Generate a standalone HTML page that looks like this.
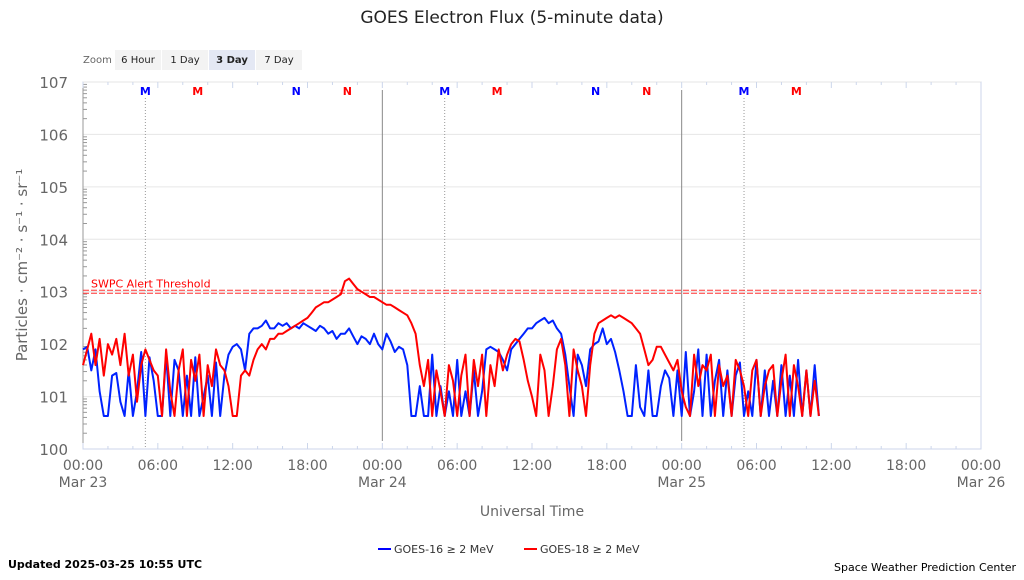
<!DOCTYPE html>
<html><head><meta charset="utf-8"><style>
body{margin:0;background:#fff;width:1024px;height:576px;overflow:hidden;font-family:"DejaVu Sans","Liberation Sans",sans-serif}
svg text{font-family:"DejaVu Sans","Liberation Sans",sans-serif}
</style></head><body>
<svg id="c" width="1024" height="576" xmlns="http://www.w3.org/2000/svg">
<text x="512" y="23" text-anchor="middle" font-size="17" fill="#222">GOES Electron Flux (5-minute data)</text>
<text x="83" y="63" font-size="10" fill="#666">Zoom</text>
<g><rect x="115" y="50" width="46" height="20" fill="#f3f3f3"/><text x="138" y="63" text-anchor="middle" font-size="10" fill="#222">6 Hour</text></g>
<g><rect x="162" y="50" width="46" height="20" fill="#f3f3f3"/><text x="185" y="63" text-anchor="middle" font-size="10" fill="#222">1 Day</text></g>
<g><rect x="209" y="50" width="46" height="20" fill="#e4e8f4"/><text x="232" y="63" text-anchor="middle" font-size="10" font-weight="bold" fill="#222">3 Day</text></g>
<g><rect x="256" y="50" width="46" height="20" fill="#f3f3f3"/><text x="279" y="63" text-anchor="middle" font-size="10" fill="#222">7 Day</text></g>
<g id="grid"></g><g id="marks"></g>
<text transform="translate(27,265) rotate(-90)" text-anchor="middle" font-size="15" fill="#666">Particles · cm⁻² · s⁻¹ · sr⁻¹</text>
<text x="532" y="516" text-anchor="middle" font-size="14" fill="#666">Universal Time</text>
<g><line x1="378" y1="549" x2="391" y2="549" stroke="#0000ff" stroke-width="2"/><text x="394" y="553" font-size="11" fill="#333">GOES-16 ≥ 2 MeV</text></g>
<g><line x1="524" y1="549" x2="537" y2="549" stroke="#ff0000" stroke-width="2"/><text x="540" y="553" font-size="11" fill="#333">GOES-18 ≥ 2 MeV</text></g>
<text x="8" y="568" font-size="11" font-weight="bold" fill="#000">Updated 2025-03-25 10:55 UTC</text>
<text x="1016" y="571" text-anchor="end" font-size="11" fill="#000">Space Weather Prediction Center</text>
</svg>
<script>
// log10 flux, sampled every 20 minutes from 2025-03-23 00:00
const goes16 = [1.9,1.95,1.5, 1.9,1.1,0.63, 0.63,1.4,1.45, 0.9,0.63,1.5, 0.63,1.1,1.85, 0.63,1.75,1.3, 0.63,0.63,1.8, 0.63,1.7,1.5, 0.63,1.4,0.63, 1.75,0.63,1.0, 1.4,0.63,1.65, 0.63,1.4,1.8, 1.95,2.0,1.9, 1.5,2.2,2.3, 2.3,2.35,2.45, 2.3,2.3,2.4, 2.35,2.4,2.3, 2.35,2.3,2.4, 2.35,2.3,2.25, 2.35,2.3,2.2, 2.25,2.1,2.2, 2.2,2.3,2.15, 2.0,2.15,2.1, 2.0,2.2,2.0, 1.9,2.2,2.05, 1.85,1.95,1.9, 1.6,0.63,0.63, 1.2,0.63,0.63, 1.8,0.63,1.2, 0.63,1.1,0.63, 1.7,0.63,1.1, 0.63,1.5,0.63, 1.1,1.9,1.95, 1.9,1.85,1.7, 1.5,1.9,2.0, 2.1,2.2,2.3, 2.3,2.4,2.45, 2.5,2.4,2.45, 2.3,2.2,1.8, 1.2,0.63,1.8, 1.6,1.2,1.9, 2.0,2.05,2.3, 2.0,2.1,1.85, 1.5,1.1,0.63, 0.63,1.6,0.8, 0.63,1.5,0.63, 0.63,1.2,1.5, 1.35,0.63,1.5, 0.63,1.85,0.63, 1.1,1.9,0.63, 1.8,0.63,1.3, 1.7,0.63,1.5, 0.63,1.4,1.65, 0.63,1.1,0.63, 1.7,0.63,1.5, 0.63,1.3,0.63, 1.6,0.63,1.4, 0.63,1.7,0.63, 1.5,0.63,1.6, 0.63];
const goes18 = [1.6,1.9,2.2, 1.6,2.1,1.4, 2.0,1.8,2.1, 1.6,2.2,1.4, 1.8,0.9,1.6, 1.9,1.7,1.5, 1.4,0.63,1.9, 1.1,0.63,1.5, 1.9,0.63,1.7, 1.3,1.8,0.63, 1.6,1.2,1.9, 1.6,1.5,1.2, 0.63,0.63,1.4, 1.5,1.4,1.7, 1.9,2.0,1.9, 2.1,2.1,2.2, 2.2,2.25,2.3, 2.35,2.4,2.45, 2.5,2.6,2.7, 2.75,2.8,2.8, 2.85,2.9,2.95, 3.2,3.25,3.15, 3.05,3.0,2.95, 2.9,2.9,2.85, 2.8,2.75,2.75, 2.7,2.65,2.6, 2.55,2.4,2.2, 1.6,1.2,1.7, 0.63,1.5,1.1, 0.63,1.6,1.3, 0.63,1.4,1.8, 0.63,1.7,1.2, 1.8,0.63,1.6, 1.2,1.9,1.5, 1.8,2.0,2.1, 2.05,1.7,1.3, 1.0,0.63,1.8, 1.5,0.63,1.2, 1.9,2.1,1.6, 0.63,1.9,1.5, 1.2,0.63,1.6, 2.2,2.4,2.45, 2.5,2.55,2.5, 2.55,2.5,2.45, 2.4,2.3,2.2, 1.9,1.6,1.7, 1.95,1.95,1.8, 1.65,1.5,1.7, 1.1,0.8,0.63, 1.8,1.2,1.6, 1.5,1.8,0.63, 1.6,1.2,1.4, 0.63,1.7,1.5, 1.2,0.63,1.5, 1.7,0.63,1.2, 1.5,1.6,0.63, 1.3,1.8,0.63, 1.6,1.2,0.63, 1.5,0.63,1.3, 0.63];
const xTickLabels = ["00:00","06:00","12:00","18:00","00:00","06:00","12:00","18:00","00:00","06:00","12:00","18:00","00:00"];
const dayLabels = ["Mar 23","Mar 24","Mar 25","Mar 26"];
const yTickExps = [0,1,2,3,4,5,6,7];
const thresholdExp = 3;
const satMarkers = [["M",5.0,"#00f"],["M",9.2,"#f00"],["N",17.1,"#00f"],["N",21.2,"#f00"],["M",29.0,"#00f"],["M",33.2,"#f00"],["N",41.1,"#00f"],["N",45.2,"#f00"],["M",53.0,"#00f"],["M",57.2,"#f00"]];

const NS="http://www.w3.org/2000/svg";
const X0=83,X1=981,Y0=449,Y7=82,HRS=72,STEP=1/3;
const xs=h=>X0+(X1-X0)*h/HRS;
const ys=l=>Y0-(Y0-Y7)*l/7;
function mk(p,t,a){const e=document.createElementNS(NS,t);for(const k in a)e.setAttribute(k,a[k]);p.appendChild(e);return e;}
const g=document.getElementById('grid'),m=document.getElementById('marks');
mk(g,'rect',{x:X0,y:Y7,width:X1-X0,height:Y0-Y7,fill:'none',stroke:'#ccd6eb','stroke-width':1});
yTickExps.forEach(e=>{const y=ys(e);
 const gl=mk(g,'line',{x1:X0,x2:X1,y1:y,y2:y,stroke:'#e6e6e6'});
 
 
 const t=mk(g,'text',{x:68,y:y+6,'text-anchor':'end','font-size':15,fill:'#666'});
 t.textContent='10'+e;
 
 
 for(let k=2;k<10&&e<7;k++){const yy=ys(e+Math.log10(k));mk(g,'line',{x1:X0,x2:X0+4,y1:yy,y2:yy,stroke:'#999'});}
});
mk(g,'line',{x1:X0,x2:X0,y1:Y7,y2:Y0,stroke:'#999'});
mk(g,'line',{x1:X0,x2:X1,y1:Y0,y2:Y0,stroke:'#ccd6eb'});
for(let h=0;h<=HRS;h+=2){const x=xs(h);mk(g,'line',{x1:x,x2:x,y1:Y7,y2:Y7+(h%6?3:6),stroke:'#ccd6eb'});mk(g,'line',{x1:x,x2:x,y1:Y0,y2:Y0-(h%6?3:6),stroke:'#ccd6eb'});}
xTickLabels.forEach((s,i)=>{const t=mk(g,'text',{x:xs(i*6),y:470,'text-anchor':'middle','font-size':14,fill:'#666'});t.textContent=s;
 
 });
dayLabels.forEach((s,i)=>{const t=mk(g,'text',{x:xs(i*24),y:487,'text-anchor':'middle','font-size':14,fill:'#666'});t.textContent=s;
 
 
 if(i>0&&i<3){const l=mk(g,'line',{x1:xs(i*24),x2:xs(i*24),y1:90,y2:441,stroke:'#888'});
 
 }});
satMarkers.forEach(s=>{const x=xs(s[1]);const t=mk(g,'text',{x:x,y:95,'text-anchor':'middle','font-size':11,'font-weight':'bold',fill:s[2]});t.textContent=s[0];
 
 
 if(s[0]==='M'&&s[2]==='#00f'){mk(g,'line',{x1:x,x2:x,y1:98,y2:Y0,stroke:'#999','stroke-dasharray':'1,2'});}});
const ty=ys(thresholdExp);
mk(g,'line',{x1:X0,x2:X1,y1:ty-1.5,y2:ty-1.5,stroke:'#f33','stroke-dasharray':'6,2'});
const tl=mk(g,'line',{x1:X0,x2:X1,y1:ty+1.5,y2:ty+1.5,stroke:'#f33','stroke-dasharray':'6,2'});


const tt=mk(g,'text',{x:91,y:ty-4,'font-size':11,fill:'#f00'});tt.textContent='SWPC Alert Threshold';


function series(arr,col,name){const d=arr.map((v,i)=>(i?'L':'M')+xs(i*STEP).toFixed(1)+','+ys(v).toFixed(1)).join('');
 const p=mk(m,'path',{d:d,fill:'none',stroke:col,'stroke-width':2,'stroke-linejoin':'round'});
 
 }
series(goes16,'#0022ff','goes16-line');
series(goes18,'#ff0000','goes18-line');
</script>
</body></html>
